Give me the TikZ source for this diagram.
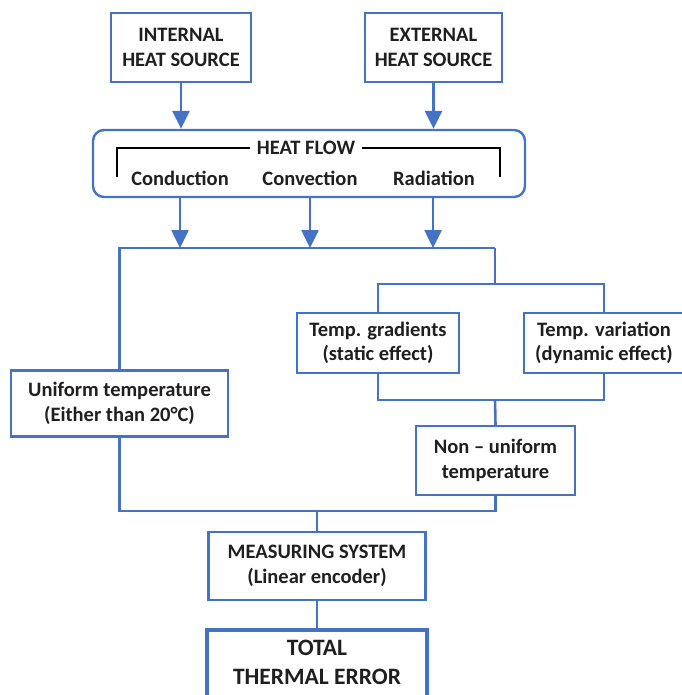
\documentclass[tikz,border=0pt]{standalone}
\usepackage{fontspec}
\setmainfont{Carlito}
\usetikzlibrary{arrows.meta}
\definecolor{bblue}{HTML}{4472C4}
\definecolor{txt}{HTML}{1F1F1F}
\begin{document}
\begin{tikzpicture}[x=1pt,y=-1pt,
  txtfont/.style={font=\bfseries\fontsize{20.5}{24.5}\selectfont},
  box/.style={draw=bblue,line width=2.4pt,fill=white,align=center,text=txt,txtfont,inner sep=0pt},
  conn/.style={draw=bblue,line width=2.6pt},
  arr/.style={conn,-{Triangle[width=17pt,length=18pt]}},
  lbl/.style={text=txt,txtfont,inner sep=0pt}]
\useasboundingbox (0,0) rectangle (681,695);
% top sources
\node[box,minimum width=140pt,minimum height=69pt] (int) at (181,47.5) {INTERNAL\\HEAT SOURCE};
\node[box,minimum width=137pt,minimum height=69pt] (ext) at (433.5,47.5) {EXTERNAL\\HEAT SOURCE};
% heat flow box
\node[box,rounded corners=11pt,minimum width=432pt,minimum height=67pt] (hf) at (309,163.5) {};
\draw[black,line width=2.6pt] (117,177) -- (117,148) -- (500,148) -- (500,177);
\node[lbl,fill=white,inner xsep=7pt] (hft) at (306,148) {HEAT FLOW};
\node[lbl] (cond) at (180,178) {Conduction};
\node[lbl] (conv) at (310,178) {Convection};
\node[lbl] (rad) at (434,178) {Radiation};
\draw[arr] (int.south) -- (int.south |- hf.north);
\draw[arr] (ext.south) -- (ext.south |- hf.north);
% bus
\coordinate (busL) at (120,248);
\coordinate (busR) at (495,248);
\coordinate (a1) at (180,248);
\coordinate (a2) at (310,248);
\coordinate (a3) at (433,248);
\draw[arr] (a1 |- hf.south) -- (a1);
\draw[arr] (a2 |- hf.south) -- (a2);
\draw[arr] (a3 |- hf.south) -- (a3);
% boxes
\node[box,minimum width=217pt,minimum height=66pt] (uni) at (119.5,403.5) {Uniform temperature\\(Either than 20°C)};
\node[box,minimum width=162pt,minimum height=60pt] (tg) at (378,343) {Temp. gradients\\(static effect)};
\node[box,minimum width=160pt,minimum height=60pt] (tv) at (604,343) {Temp. variation\\(dynamic effect)};
\node[box,minimum width=159pt,minimum height=69pt] (nu) at (495.5,460.5) {Non -- uniform\\temperature};
\node[box,minimum width=217pt,minimum height=68pt] (ms) at (317,566) {MEASURING SYSTEM\\(Linear encoder)};
\node[box,draw=none,minimum width=217pt,minimum height=62pt,font=\bfseries\fontsize{23.5}{29}\selectfont,anchor=north] (tot) at (317,630) {TOTAL\\THERMAL ERROR};
\draw[draw=bblue,line width=4pt] (tot.north west) rectangle ([yshift=-20pt]tot.south east);
% connectors
\draw[conn] (uni.north) |- (busL) -- (busR);
\coordinate (split) at (495,284);
\draw[conn] (busR) -- (split);
\draw[conn] (tg.north) |- (split) -| (tv.north);
\coordinate (join) at (495,400);
\draw[conn] (tg.south) |- (join) -| (tv.south);
\draw[conn] (join) -- (nu.north);
\coordinate (bot) at (317,511);
\draw[conn] (uni.south) |- (bot) -| (nu.south);
\draw[conn] (bot) -- (ms.north);
\draw[conn] (ms.south) -- (tot.north);
\end{tikzpicture}
\end{document}
